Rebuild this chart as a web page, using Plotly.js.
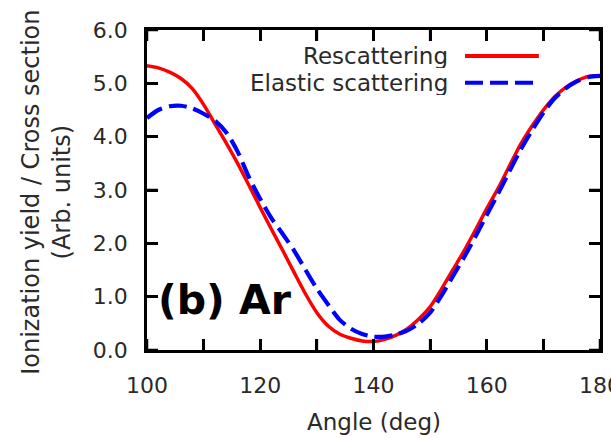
<!DOCTYPE html>
<html>
<head>
<meta charset="utf-8">
<script src="https://cdn.plot.ly/plotly-3.0.1.min.js"></script>
<style>html,body{margin:0;padding:0;background:#fff;}#chart{width:611px;height:438px;}</style>
</head>
<body>
<div id="chart"></div>
<script>
const angles = [100,102,104,106,108,110,112,114,116,118,120,122,124,126,128,130,132,134,136,138,140,
                142,144,146,148,150,152,154,156,158,160,162,164,166,168,170,172,174,176,178,180];
const rescattering = [5.33,5.29,5.21,5.09,4.90,4.60,4.24,3.88,3.50,3.09,2.67,2.26,1.86,1.45,1.05,0.70,0.45,0.30,0.22,0.17,0.16,
                      0.20,0.28,0.40,0.58,0.81,1.14,1.50,1.86,2.25,2.65,3.03,3.45,3.86,4.20,4.50,4.75,4.93,5.05,5.13,5.14];
const elastic = [4.35,4.50,4.57,4.58,4.53,4.43,4.30,4.08,3.72,3.24,2.83,2.47,2.17,1.86,1.50,1.15,0.85,0.57,0.40,0.30,0.25,
                 0.25,0.29,0.37,0.50,0.70,1.02,1.38,1.74,2.13,2.53,2.93,3.35,3.76,4.12,4.45,4.72,4.91,5.04,5.12,5.14];
const seriesNames = ["Rescattering", "Elastic scattering"];
const xTickVals = [100,110,120,130,140,150,160,170,180];
const xTickText = ["100","","120","","140","","160","","180"];
const yTickVals = [0,1,2,3,4,5,6];
const xTitle = "Angle (deg)";
const yTitle = "Ionization yield / Cross section<br>(Arb. units)";
const panelLabel = "<b>(b) Ar</b>";

const FONT = "DejaVu Sans";
const TXT = "#2a2a2a";
const W = 611, H = 438, M = {l: 147, r: 11, t: 30, b: 88};
const PW = W - M.l - M.r, PH = H - M.t - M.b;
const TL = 11;

const traces = [
  {x: angles, y: rescattering, name: seriesNames[0], mode: "lines",
   line: {color: "#ff0000", width: 3.5, shape: "spline", smoothing: 0.8}},
  {x: angles, y: elastic, name: seriesNames[1], mode: "lines",
   line: {color: "#0000ff", width: 4.2, dash: "18px,7px", shape: "spline", smoothing: 0.8}}
];

const legendRows = [0.919, 0.835];
const annotations = [
  {xref: "paper", yref: "paper", x: 0.02, y: 0.156, xanchor: "left", yanchor: "middle",
   text: panelLabel, showarrow: false, font: {family: FONT, size: 41, color: "#000"}},
  {xref: "paper", yref: "paper", x: 0.5, y: -0.224, xanchor: "center", yanchor: "middle",
   text: xTitle, showarrow: false, font: {family: FONT, size: 23, color: TXT}},
  {xref: "paper", yref: "paper", x: -0.221, y: 0.494, xanchor: "center", yanchor: "middle", textangle: -90,
   text: yTitle, showarrow: false, font: {family: FONT, size: 24, color: TXT}}
];
const shapes = [];
seriesNames.forEach((n, i) => {
  annotations.push({xref: "paper", yref: "paper", x: 0.668, y: legendRows[i], xanchor: "right", yanchor: "middle",
    height: 24, valign: "middle",
    text: n, showarrow: false, font: {family: FONT, size: 23, color: TXT}});
  shapes.push({type: "line", xref: "paper", yref: "paper", x0: 0.702, x1: 0.865, y0: legendRows[i], y1: legendRows[i],
    line: {color: traces[i].line.color, width: 4, dash: i === 1 ? "18px,7px" : "solid"}});
});
// axis tick marks (inside, on all four sides)
const tickLine = {color: "#000", width: 2.5};
xTickVals.forEach(v => {
  shapes.push({type: "line", xref: "x", yref: "paper", x0: v, x1: v, y0: 0, y1: TL / PH, line: tickLine});
  shapes.push({type: "line", xref: "x", yref: "paper", x0: v, x1: v, y0: 1, y1: 1 - TL / PH, line: tickLine});
});
yTickVals.forEach(v => {
  shapes.push({type: "line", xref: "paper", yref: "y", x0: 0, x1: TL / PW, y0: v, y1: v, line: tickLine});
  shapes.push({type: "line", xref: "paper", yref: "y", x0: 1, x1: 1 - TL / PW, y0: v, y1: v, line: tickLine});
});

const layout = {
  width: W, height: H,
  margin: M,
  showlegend: false,
  xaxis: {
    showline: true, linecolor: "#000", linewidth: 2.5, mirror: "ticks",
    ticks: "inside", ticklen: TL, tickwidth: 2.5, tickcolor: "#000",
    showgrid: false, zeroline: false,
    range: [100, 180], tickvals: xTickVals, ticktext: xTickText,
    tickfont: {family: FONT, size: 22, color: TXT},
    ticklabeloverflow: "allow", ticklabelstandoff: 14
  },
  yaxis: {
    showline: true, linecolor: "#000", linewidth: 2.5, mirror: "ticks",
    ticks: "inside", ticklen: TL, tickwidth: 2.5, tickcolor: "#000",
    showgrid: false, zeroline: false,
    range: [0, 6], tickvals: yTickVals, tickformat: ".1f",
    tickfont: {family: FONT, size: 22, color: TXT},
    ticklabelstandoff: 12
  },
  annotations: annotations,
  shapes: shapes
};

Plotly.newPlot("chart", traces, layout, {displayModeBar: false});
</script>
</body>
</html>
